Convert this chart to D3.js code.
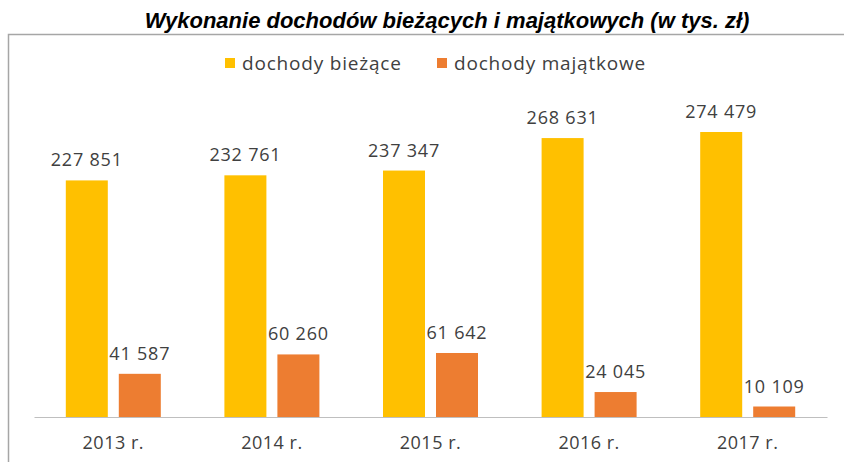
<!DOCTYPE html>
<html>
<head>
<meta charset="utf-8">
<script src="https://cdn.jsdelivr.net/npm/d3@7"></script>
<style>
  html, body { margin: 0; padding: 0; background: #fff; }
  svg { display: block; }
</style>
</head>
<body>
<svg id="chart" width="844" height="462"></svg>
<script>
const title = "Wykonanie dochodów bieżących i majątkowych (w tys. zł)";
const categories = ["2013 r.", "2014 r.", "2015 r.", "2016 r.", "2017 r."];
const seriesNames = ["dochody bieżące", "dochody majątkowe"];
const biezace = [227851, 232761, 237347, 268631, 274479];
const majatkowe = [41587, 60260, 61642, 24045, 10109];
const colors = ["#FFC000", "#ED7D31"];

const seriesValues = [biezace, majatkowe];
const data = categories.map((c, i) => ({
  cat: c,
  vals: seriesNames.map((s, j) => ({ s, j, v: seriesValues[j][i] }))
}));

const W = 844, H = 462;
const svg = d3.select("#chart");
const fmt = d3.formatLocale({ thousands: " ", grouping: [3], decimal: ",", currency: ["", ""] }).format(",d");

const baseY = 417;
const x0 = d3.scaleBand().domain(categories).range([34, 827]).paddingInner(0).paddingOuter(0);
const x1 = d3.scaleBand().domain(seriesNames).range([0, x0.bandwidth()]).paddingInner(0.2075).paddingOuter(0.6);
const y = d3.scaleLinear().domain([0, 300000]).range([baseY, baseY - 300000 * 285 / 274479]);

// frame
svg.append("path")
  .attr("d", `M8.5,${H + 2} L8.5,34.5 L${W + 2},34.5`)
  .attr("fill", "none").attr("stroke", "#a6a6a6").attr("stroke-width", 1.5);

// title
svg.append("text")
  .attr("x", 447).attr("y", 28)
  .attr("text-anchor", "middle")
  .attr("font-family", "Liberation Sans, Arial, sans-serif")
  .attr("font-weight", "bold").attr("font-style", "italic")
  .attr("font-size", 22).attr("fill", "#000")
  .text(title);

// legend
const legendX = [225, 437];
const lg = svg.append("g");
seriesNames.forEach((s, j) => {
  lg.append("rect").attr("x", legendX[j]).attr("y", 58).attr("width", 10).attr("height", 10).attr("fill", colors[j]);
  lg.append("text").attr("x", legendX[j] + 17).attr("y", 70)
    .attr("font-family", "Open Sans, sans-serif").attr("font-size", 19)
    .attr("letter-spacing", 0.8)
    .attr("fill", "#404040").text(s);
});

// bars
const groups = svg.append("g").selectAll("g").data(data).join("g")
  .attr("transform", d => `translate(${x0(d.cat)},0)`);
groups.selectAll("rect").data(d => d.vals).join("rect")
  .attr("x", d => x1(d.s)).attr("width", x1.bandwidth())
  .attr("y", d => y(d.v)).attr("height", d => baseY - y(d.v))
  .attr("fill", d => colors[d.j]);
groups.selectAll("text").data(d => d.vals).join("text")
  .attr("x", d => x1(d.s) + x1.bandwidth() / 2)
  .attr("y", d => y(d.v) - 14)
  .attr("text-anchor", "middle")
  .attr("font-family", "Open Sans, sans-serif").attr("font-size", 18)
  .attr("letter-spacing", 0.8)
  .attr("fill", "#404040")
  .text(d => fmt(d.v));

// x axis
const xAxis = d3.axisBottom(x0).tickSize(0).tickPadding(19);
const ax = svg.append("g").attr("transform", `translate(0,${baseY})`).call(xAxis);
ax.select(".domain").attr("stroke", "#bfbfbf").attr("stroke-width", 1.2);
ax.selectAll("text")
  .attr("font-family", "Open Sans, sans-serif").attr("font-size", 18)
  .attr("letter-spacing", 0.5)
  .attr("fill", "#404040");
</script>
</body>
</html>
